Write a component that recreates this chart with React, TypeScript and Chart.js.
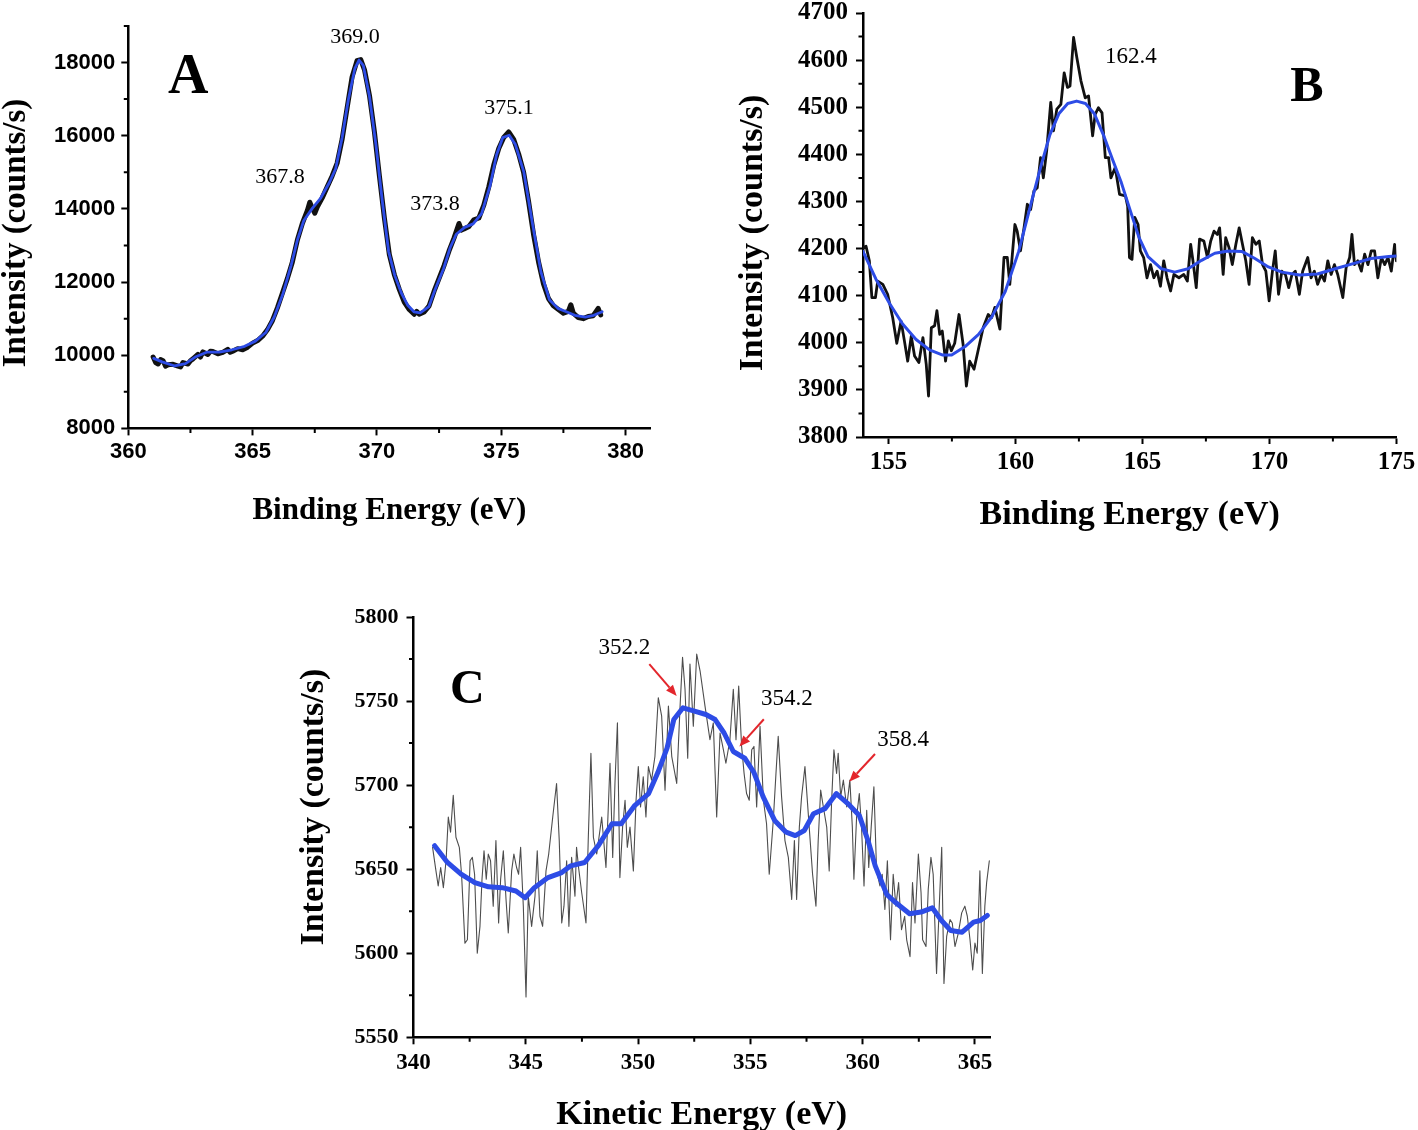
import React, { useEffect, useRef } from 'react';
import { Chart, registerables } from 'chart.js';
Chart.register(...registerables);

// ---------------- Panel A (Binding energy, 360-381 eV) ----------------
const A_X_TICKS = [360, 365, 370, 375, 380];
const A_X_MINOR = [362.5, 367.5, 372.5, 377.5];
const A_Y_TICKS = [8000, 10000, 12000, 14000, 16000, 18000];
const A_Y_MINOR = [9000, 11000, 13000, 15000, 17000, 19000];
const A_RAW: [number, number][] = [
  [361.0, 9950], [361.1, 9800], [361.2, 9760], [361.3, 9880], [361.4, 9850], [361.5, 9700], [361.6, 9740],
  [361.8, 9750], [362.0, 9700], [362.1, 9680], [362.2, 9800], [362.4, 9760], [362.5, 9850], [362.6, 9900],
  [362.8, 10020], [362.9, 9950], [363.0, 10090], [363.2, 10020], [363.3, 10110], [363.4, 10100], [363.6, 10040],
  [363.8, 10080], [364.0, 10160], [364.1, 10080], [364.2, 10110], [364.4, 10180], [364.6, 10150], [364.8, 10220],
  [365.0, 10330], [365.2, 10400], [365.4, 10520], [365.6, 10700], [365.8, 10950], [366.0, 11300], [366.2, 11700],
  [366.4, 12100], [366.6, 12550], [366.8, 13150], [367.0, 13600], [367.2, 13950], [367.3, 14180], [367.4, 14020],
  [367.5, 13880], [367.6, 14050], [367.8, 14300], [368.0, 14600], [368.2, 14900], [368.4, 15250], [368.6, 15900],
  [368.8, 16750], [369.0, 17600], [369.2, 18050], [369.35, 18080], [369.5, 17800], [369.7, 17100], [369.9, 16100],
  [370.1, 14900], [370.3, 13750], [370.5, 12750], [370.7, 12200], [370.9, 11800], [371.1, 11450], [371.3, 11250],
  [371.5, 11120], [371.6, 11200], [371.7, 11120], [371.9, 11180], [372.1, 11350], [372.3, 11750], [372.5, 12100],
  [372.7, 12450], [372.9, 12850], [373.1, 13200], [373.3, 13600], [373.4, 13420], [373.5, 13450], [373.7, 13520],
  [373.9, 13700], [374.1, 13750], [374.3, 14100], [374.5, 14600], [374.7, 15200], [374.9, 15650], [375.1, 15950],
  [375.3, 16100], [375.5, 15900], [375.7, 15500], [375.9, 15000], [376.1, 14200], [376.3, 13300], [376.5, 12550],
  [376.7, 11950], [376.9, 11550], [377.1, 11350], [377.3, 11250], [377.5, 11150], [377.7, 11200], [377.8, 11380],
  [377.9, 11150], [378.1, 11030], [378.3, 11000], [378.5, 11060], [378.7, 11080], [378.9, 11280], [379.0, 11100],
];
const A_FIT: [number, number][] = [
  [361.02, 9913], [361.36, 9819], [361.87, 9706], [362.3, 9772], [362.72, 9960], [363.15, 10083], [363.66, 10083],
  [364.17, 10149], [364.68, 10243], [365.11, 10385], [365.53, 10620], [365.87, 11044], [366.21, 11657],
  [366.55, 12458], [366.81, 13165], [367.06, 13683], [367.4, 14013], [367.74, 14296], [368.09, 14720],
  [368.34, 15097], [368.6, 15945], [368.85, 16982], [369.11, 17830], [369.28, 18066], [369.45, 17924],
  [369.7, 17076], [369.96, 15757], [370.21, 14249], [370.47, 12835], [370.72, 12175], [370.98, 11704],
  [371.23, 11374], [371.49, 11186], [371.74, 11157], [372.09, 11327], [372.34, 11798], [372.68, 12364],
  [372.94, 12929], [373.19, 13306], [373.53, 13495], [373.87, 13589], [374.21, 13872], [374.55, 14626],
  [374.81, 15474], [375.06, 15945], [375.32, 16011], [375.57, 15757], [375.91, 15003], [376.26, 13589],
  [376.6, 12270], [376.94, 11515], [377.28, 11280], [377.62, 11186], [377.96, 11091], [378.38, 11044],
  [378.72, 11091], [379.06, 11186],
];
const A_LABELS: [string, number, number][] = [
  ['369.0', 369.12, 18533], ['375.1', 375.31, 16593], ['367.8', 366.1, 14707], ['373.8', 372.34, 13969],
];
const A_LETTER: [string, number, number] = ['A', 362.41, 17166];

// ---------------- Panel B (Binding energy, 154-175 eV) ----------------
const B_X_TICKS = [155, 160, 165, 170, 175];
const B_X_MINOR = [157.5, 162.5, 167.5, 172.5];
const B_Y_TICKS = [3800, 3900, 4000, 4100, 4200, 4300, 4400, 4500, 4600, 4700];
const B_Y_MINOR = [3850, 3950, 4050, 4150, 4250, 4350, 4450, 4550, 4650];
const B_RAW: [number, number][] = [
  [153.99, 4202], [154.12, 4205], [154.25, 4174], [154.35, 4096], [154.49, 4096], [154.58, 4131], [154.78, 4124],
  [154.97, 4103], [155.17, 4053], [155.33, 3999], [155.5, 4046], [155.63, 4004], [155.76, 3961], [155.9, 4014],
  [156.03, 3972], [156.2, 3958], [156.36, 4011], [156.49, 3954], [156.58, 3887], [156.69, 4032], [156.82, 4036],
  [156.91, 4068], [157.02, 4018], [157.12, 4025], [157.25, 3961], [157.36, 4004], [157.48, 3983], [157.61, 3999],
  [157.78, 4060], [157.94, 3997], [158.07, 3908], [158.2, 3961], [158.37, 3944], [158.53, 3983], [158.73, 4032],
  [158.93, 4060], [159.06, 4053], [159.19, 4075], [159.39, 4029], [159.55, 4181], [159.68, 4181], [159.78, 4124],
  [159.98, 4251], [160.07, 4237], [160.2, 4195], [160.34, 4244], [160.47, 4294], [160.6, 4283], [160.73, 4322],
  [160.86, 4329], [160.99, 4393], [161.1, 4350], [161.23, 4407], [161.39, 4510], [161.5, 4450], [161.63, 4496],
  [161.79, 4506], [161.92, 4573], [162.05, 4542], [162.15, 4545], [162.29, 4648], [162.42, 4605], [162.58, 4556],
  [162.75, 4520], [162.88, 4524], [163.04, 4439], [163.14, 4485], [163.27, 4499], [163.41, 4488], [163.54, 4393],
  [163.67, 4393], [163.76, 4350], [163.93, 4372], [164.1, 4315], [164.33, 4312], [164.42, 4290], [164.49, 4181],
  [164.59, 4177], [164.7, 4266], [164.83, 4251], [164.92, 4195], [165.05, 4181], [165.18, 4138], [165.32, 4166],
  [165.45, 4138], [165.58, 4152], [165.71, 4120], [165.84, 4174], [165.97, 4138], [166.11, 4110], [166.24, 4145],
  [166.44, 4138], [166.63, 4145], [166.77, 4131], [166.9, 4209], [166.99, 4174], [167.12, 4117], [167.25, 4220],
  [167.42, 4216], [167.56, 4181], [167.69, 4216], [167.82, 4237], [167.95, 4230], [168.04, 4244], [168.18, 4145],
  [168.28, 4223], [168.41, 4202], [168.54, 4166], [168.68, 4209], [168.81, 4244], [168.94, 4209], [169.07, 4174],
  [169.2, 4124], [169.33, 4223], [169.47, 4209], [169.6, 4216], [169.73, 4166], [169.86, 4152], [169.99, 4089],
  [170.12, 4152], [170.23, 4195], [170.36, 4103], [170.49, 4152], [170.63, 4145], [170.76, 4117], [170.89, 4145],
  [171.02, 4152], [171.18, 4103], [171.31, 4152], [171.51, 4181], [171.64, 4138], [171.77, 4152], [171.9, 4124],
  [172.04, 4145], [172.17, 4131], [172.3, 4174], [172.43, 4145], [172.56, 4166], [172.69, 4145], [172.89, 4096],
  [173.02, 4159], [173.16, 4181], [173.25, 4230], [173.35, 4166], [173.48, 4174], [173.62, 4152], [173.75, 4188],
  [173.88, 4166], [174.01, 4195], [174.14, 4195], [174.27, 4138], [174.41, 4181], [174.54, 4166], [174.67, 4181],
  [174.8, 4152], [174.93, 4209], [175.0, 4174],
];
const B_FIT: [number, number][] = [
  [154.0, 4194], [154.51, 4135], [155.04, 4084], [155.56, 4040], [156.09, 4007], [156.62, 3985], [157.14, 3974],
  [157.49, 3974], [158.02, 3992], [158.55, 4018], [159.07, 4055], [159.6, 4109], [160.13, 4194], [160.65, 4303],
  [161.01, 4376], [161.36, 4442], [161.71, 4486], [162.06, 4508], [162.41, 4513], [162.76, 4508], [163.11, 4486],
  [163.46, 4442], [163.81, 4391], [164.17, 4340], [164.52, 4281], [164.87, 4223], [165.22, 4183], [165.75, 4157],
  [166.27, 4150], [166.8, 4157], [167.33, 4175], [167.85, 4190], [168.38, 4195], [168.91, 4194], [169.43, 4179],
  [169.96, 4161], [170.49, 4150], [171.19, 4144], [171.89, 4146], [172.59, 4157], [173.3, 4168], [174.0, 4179],
  [174.7, 4183], [175.0, 4184],
];
const B_LABELS: [string, number, number][] = [['162.4', 164.55, 4594]];
const B_LETTER: [string, number, number] = ['B', 171.48, 4513];

// ---------------- Panel C (Kinetic energy, 340-365.7 eV) ----------------
const C_X_TICKS = [340, 345, 350, 355, 360, 365];
const C_X_MINOR = [342.5, 347.5, 352.5, 357.5, 362.5];
const C_Y_TICKS = [5550, 5600, 5650, 5700, 5750, 5800];
const C_Y_MINOR = [5575, 5625, 5675, 5725, 5775];
const C_RAW: [number, number][] = [
  [340.85, 5663], [341.0, 5649], [341.1, 5640], [341.21, 5651], [341.33, 5639], [341.45, 5655], [341.55, 5681],
  [341.65, 5672], [341.77, 5694], [341.89, 5669], [342.04, 5663], [342.14, 5647], [342.29, 5606], [342.4, 5608],
  [342.52, 5655], [342.62, 5657], [342.72, 5647], [342.84, 5600], [342.96, 5616], [343.05, 5644], [343.14, 5661],
  [343.24, 5644], [343.33, 5659], [343.43, 5655], [343.55, 5628], [343.67, 5667], [343.79, 5618], [343.88, 5644],
  [344.0, 5661], [344.12, 5632], [344.22, 5612], [344.37, 5649], [344.47, 5659], [344.59, 5651], [344.68, 5647],
  [344.77, 5663], [344.89, 5628], [345.01, 5574], [345.11, 5634], [345.26, 5616], [345.41, 5634], [345.51, 5661],
  [345.63, 5622], [345.75, 5616], [345.9, 5649], [346.02, 5659], [346.2, 5681], [346.37, 5701], [346.49, 5667],
  [346.6, 5618], [346.7, 5628], [346.82, 5655], [346.92, 5616], [347.04, 5657], [347.19, 5634], [347.26, 5663],
  [347.35, 5651], [347.49, 5636], [347.68, 5618], [347.78, 5667], [347.9, 5719], [348.01, 5669], [348.16, 5659],
  [348.38, 5681], [348.57, 5651], [348.75, 5713], [348.87, 5657], [348.97, 5701], [349.08, 5737], [349.19, 5645],
  [349.31, 5675], [349.42, 5691], [349.52, 5663], [349.64, 5675], [349.79, 5649], [349.91, 5691], [350.01, 5711],
  [350.11, 5687], [350.23, 5705], [350.35, 5681], [350.46, 5711], [350.6, 5703], [350.75, 5717], [350.9, 5752],
  [351.05, 5741], [351.2, 5697], [351.35, 5747], [351.5, 5717], [351.72, 5701], [351.87, 5747], [351.98, 5776],
  [352.09, 5757], [352.21, 5716], [352.31, 5772], [352.46, 5735], [352.61, 5778], [352.76, 5768], [352.98, 5747],
  [353.2, 5727], [353.35, 5737], [353.5, 5681], [353.65, 5731], [353.8, 5721], [353.91, 5713], [354.09, 5727],
  [354.24, 5757], [354.36, 5727], [354.48, 5759], [354.61, 5723], [354.72, 5707], [354.83, 5695], [354.95, 5691],
  [355.06, 5721], [355.16, 5723], [355.28, 5687], [355.43, 5735], [355.58, 5691], [355.72, 5677], [355.84, 5647],
  [356.02, 5679], [356.14, 5707], [356.24, 5729], [356.39, 5693], [356.54, 5667], [356.69, 5657], [356.84, 5632],
  [356.96, 5667], [357.06, 5632], [357.18, 5675], [357.28, 5693], [357.43, 5711], [357.62, 5675], [357.77, 5647],
  [357.92, 5628], [358.02, 5667], [358.13, 5697], [358.25, 5687], [358.4, 5675], [358.51, 5649], [358.62, 5691],
  [358.72, 5721], [358.84, 5707], [358.91, 5719], [359.02, 5693], [359.14, 5703], [359.29, 5687], [359.43, 5703],
  [359.54, 5675], [359.61, 5644], [359.73, 5681], [359.85, 5695], [359.95, 5675], [360.06, 5640], [360.18, 5685],
  [360.27, 5651], [360.38, 5675], [360.5, 5699], [360.62, 5649], [360.77, 5640], [360.87, 5647], [360.99, 5626],
  [361.1, 5655], [361.24, 5608], [361.36, 5647], [361.48, 5628], [361.6, 5642], [361.73, 5614], [361.87, 5622],
  [361.96, 5608], [362.11, 5598], [362.22, 5642], [362.33, 5618], [362.48, 5659], [362.6, 5636], [362.67, 5608],
  [362.82, 5604], [362.92, 5638], [363.04, 5657], [363.14, 5647], [363.29, 5588], [363.41, 5628], [363.52, 5663],
  [363.62, 5582], [363.74, 5610], [363.89, 5620], [363.99, 5618], [364.11, 5604], [364.26, 5612], [364.41, 5624],
  [364.55, 5628], [364.66, 5622], [364.78, 5608], [364.9, 5590], [365.0, 5606], [365.1, 5600], [365.22, 5649],
  [365.33, 5588], [365.44, 5628], [365.52, 5642], [365.64, 5655],
];
const C_FIT: [number, number][] = [
  [340.94, 5664], [341.51, 5654], [342.12, 5647], [342.73, 5642], [343.34, 5639.5], [343.95, 5639], [344.56, 5637],
  [344.97, 5633], [345.38, 5639], [345.99, 5645], [346.6, 5648], [347.0, 5652], [347.62, 5654], [348.23, 5664],
  [348.84, 5677], [349.25, 5677], [349.86, 5688], [350.47, 5695], [350.88, 5707.5], [351.29, 5722], [351.59, 5739],
  [352.0, 5746], [352.51, 5744], [353.02, 5742], [353.43, 5739], [353.83, 5731], [354.24, 5720], [354.75, 5716],
  [355.16, 5707.5], [355.57, 5693], [356.08, 5679], [356.59, 5672], [357.0, 5670], [357.4, 5673], [357.81, 5683],
  [358.32, 5686], [358.83, 5695], [359.34, 5689], [359.85, 5682], [360.25, 5666.5], [360.56, 5652], [361.07, 5635],
  [361.48, 5630], [362.09, 5623.5], [362.6, 5624.5], [363.1, 5627], [363.51, 5619.5], [363.92, 5613.5],
  [364.43, 5612.5], [364.94, 5618.5], [365.24, 5619.5], [365.55, 5622.5],
];
const C_LABELS: [string, number, number][] = [
  ['352.2', 349.39, 5778], ['354.2', 356.63, 5747.7], ['358.4', 361.8, 5723.3],
];
// arrows: [fromX, fromY, tipX, tipY] in data units
const C_ARROWS: [number, number, number, number][] = [
  [350.5, 5772, 351.72, 5753], [355.6, 5739.2, 354.51, 5722.9], [360.55, 5718.5, 359.4, 5702],
];
const C_LETTER: [string, number, number] = ['C', 342.4, 5748.8];

// ---------------------------------------------------------------------
const PAGE_W = 1418;
const PAGE_H = 1130;
const BLUE = '#2d4ce6';
const SERIF = "'Liberation Serif', 'Times New Roman', serif";
const SANS = "'Liberation Sans', Arial, sans-serif";

type Panel = {
  xMin: number; xMax: number; yMin: number; yMax: number;
  xTicks: number[]; xMinor: number[]; yTicks: number[]; yMinor: number[];
  area: { left: number; top: number; right: number; bottom: number };
  tickFont: string; xTickSize: number; yTickSize: number; xPad: number; yPad: number;
  series: { pts: [number, number][]; color: string; width: number }[];
  labels: [string, number, number][]; labelSize: number;
  letter: [string, number, number]; letterSize: number;
  arrows: [number, number, number, number][];
  xTitle: string; xTitleSize: number; xTitleDy: number;
  yTitle: string; yTitleSize: number; yTitleDx: number; yTitleDy: number;
};

const PANELS: Panel[] = [
  {
    xMin: 360, xMax: 381, yMin: 8000, yMax: 19000,
    xTicks: A_X_TICKS, xMinor: A_X_MINOR, yTicks: A_Y_TICKS, yMinor: A_Y_MINOR,
    area: { left: 128.3, top: 25.9, right: 650.4, bottom: 428.4 },
    tickFont: SANS, xTickSize: 22, yTickSize: 22, xPad: 3, yPad: 6,
    series: [
      { pts: A_FIT, color: BLUE, width: 2.8 },
      { pts: A_RAW, color: '#111111', width: 5 },
    ],
    labels: A_LABELS, labelSize: 22, letter: A_LETTER, letterSize: 56, arrows: [],
    xTitle: 'Binding Energy (eV)', xTitleSize: 31, xTitleDy: 90.6,
    yTitle: 'Intensity (counts/s)', yTitleSize: 33, yTitleDx: 103.3, yTitleDy: 5.8,
  },
  {
    xMin: 154, xMax: 175, yMin: 3800, yMax: 4700,
    xTicks: B_X_TICKS, xMinor: B_X_MINOR, yTicks: B_Y_TICKS, yMinor: B_Y_MINOR,
    area: { left: 863, top: 13, right: 1396.4, bottom: 437 },
    tickFont: SERIF, xTickSize: 25, yTickSize: 25, xPad: 4, yPad: 8,
    series: [
      { pts: B_FIT, color: BLUE, width: 3 },
      { pts: B_RAW, color: '#111111', width: 2.8 },
    ],
    labels: B_LABELS, labelSize: 23, letter: B_LETTER, letterSize: 50, arrows: [],
    xTitle: 'Binding Energy (eV)', xTitleSize: 34, xTitleDy: 87,
    yTitle: 'Intensity (counts/s)', yTitleSize: 34, yTitleDx: 101, yTitleDy: 8,
  },
  {
    xMin: 340, xMax: 365.67, yMin: 5550, yMax: 5800,
    xTicks: C_X_TICKS, xMinor: C_X_MINOR, yTicks: C_Y_TICKS, yMinor: C_Y_MINOR,
    area: { left: 413.5, top: 617, right: 990, bottom: 1037.3 },
    tickFont: SERIF, xTickSize: 23, yTickSize: 22, xPad: 5, yPad: 8,
    series: [
      { pts: C_FIT, color: BLUE, width: 5 },
      { pts: C_RAW, color: '#4d4d4d', width: 1.1 },
    ],
    labels: C_LABELS, labelSize: 23, letter: C_LETTER, letterSize: 48, arrows: C_ARROWS,
    xTitle: 'Kinetic Energy (eV)', xTitleSize: 34, xTitleDy: 86.7,
    yTitle: 'Intensity (counts/s)', yTitleSize: 34, yTitleDx: 91, yTitleDy: -20,
  },
];

const Y_AXIS_W = 80;
const X_AXIS_H = 50;

function decorPlugin(p: Panel) {
  return {
    id: 'decor',
    afterDraw(chart: any) {
      const ctx: CanvasRenderingContext2D = chart.ctx;
      const xs = chart.scales.x;
      const ys = chart.scales.y;
      const ca = chart.chartArea;
      ctx.save();
      // minor ticks
      ctx.strokeStyle = '#000';
      ctx.lineWidth = 2;
      ctx.beginPath();
      for (const v of p.xMinor) {
        const px = xs.getPixelForValue(v);
        ctx.moveTo(px, ca.bottom);
        ctx.lineTo(px, ca.bottom + 4.5);
      }
      for (const v of p.yMinor) {
        const py = ys.getPixelForValue(v);
        ctx.moveTo(ca.left, py);
        ctx.lineTo(ca.left - 4.5, py);
      }
      ctx.stroke();

      ctx.fillStyle = '#000';
      ctx.textAlign = 'center';
      ctx.textBaseline = 'alphabetic';
      // peak labels
      ctx.font = `${p.labelSize}px ${SERIF}`;
      for (const [t, x, y] of p.labels) {
        ctx.fillText(t, xs.getPixelForValue(x), ys.getPixelForValue(y));
      }
      // panel letter
      ctx.font = `bold ${p.letterSize}px ${SERIF}`;
      ctx.fillText(p.letter[0], xs.getPixelForValue(p.letter[1]), ys.getPixelForValue(p.letter[2]));

      // arrows
      ctx.strokeStyle = '#e3262c';
      ctx.fillStyle = '#e3262c';
      ctx.lineWidth = 2;
      for (const [x1, y1, x2, y2] of p.arrows) {
        const ax = xs.getPixelForValue(x1), ay = ys.getPixelForValue(y1);
        const bx = xs.getPixelForValue(x2), by = ys.getPixelForValue(y2);
        const ang = Math.atan2(by - ay, bx - ax);
        const hl = 11, hw = 4.5;
        const bxs = bx - Math.cos(ang) * hl, bys = by - Math.sin(ang) * hl;
        ctx.beginPath();
        ctx.moveTo(ax, ay);
        ctx.lineTo(bxs, bys);
        ctx.stroke();
        ctx.beginPath();
        ctx.moveTo(bx, by);
        ctx.lineTo(bxs + Math.sin(ang) * hw, bys - Math.cos(ang) * hw);
        ctx.lineTo(bxs - Math.sin(ang) * hw, bys + Math.cos(ang) * hw);
        ctx.closePath();
        ctx.fill();
      }

      // axis titles
      ctx.fillStyle = '#000';
      ctx.font = `bold ${p.xTitleSize}px ${SERIF}`;
      ctx.fillText(p.xTitle, (ca.left + ca.right) / 2, ca.bottom + p.xTitleDy);
      ctx.save();
      ctx.translate(ca.left - p.yTitleDx, (ca.top + ca.bottom) / 2 + p.yTitleDy);
      ctx.rotate(-Math.PI / 2);
      ctx.font = `bold ${p.yTitleSize}px ${SERIF}`;
      ctx.fillText(p.yTitle, 0, 0);
      ctx.restore();
      ctx.restore();
    },
  };
}

function makeChart(canvas: HTMLCanvasElement, p: Panel) {
  const xFont = { family: p.tickFont, size: p.xTickSize, weight: 'bold' as const };
  const yFont = { family: p.tickFont, size: p.yTickSize, weight: 'bold' as const };
  const grid = {
    display: true,
    drawOnChartArea: false,
    drawTicks: true,
    tickLength: 7,
    tickWidth: 2,
    tickColor: '#000',
    color: '#000',
  };
  const border = { display: true, color: '#000', width: 2.5 };
  return new Chart(canvas, {
    type: 'scatter',
    data: {
      datasets: p.series.map((s) => ({
        data: s.pts.map(([x, y]) => ({ x, y })),
        showLine: true,
        borderColor: s.color,
        backgroundColor: s.color,
        borderWidth: s.width,
        pointRadius: 0,
        pointHoverRadius: 0,
        tension: 0,
        fill: false,
        borderJoinStyle: 'round' as const,
        borderCapStyle: 'round' as const,
      })),
    },
    options: {
      responsive: false,
      animation: false,
      events: [],
      layout: {
        padding: {
          left: p.area.left - Y_AXIS_W,
          top: p.area.top,
          right: PAGE_W - p.area.right,
          bottom: PAGE_H - p.area.bottom - X_AXIS_H,
        },
      },
      plugins: { legend: { display: false }, tooltip: { enabled: false }, title: { display: false } },
      scales: {
        x: {
          type: 'linear',
          min: p.xMin,
          max: p.xMax,
          grid,
          border,
          afterBuildTicks: (s: any) => { s.ticks = p.xTicks.map((v) => ({ value: v })); },
          afterFit: (s: any) => { s.height = X_AXIS_H; s.paddingLeft = 0; s.paddingRight = 0; },
          ticks: {
            font: xFont, color: '#000', padding: p.xPad, autoSkip: false, maxRotation: 0, minRotation: 0,
            callback: (v: any) => String(v),
          },
        },
        y: {
          type: 'linear',
          min: p.yMin,
          max: p.yMax,
          grid,
          border,
          afterBuildTicks: (s: any) => { s.ticks = p.yTicks.map((v) => ({ value: v })); },
          afterFit: (s: any) => { s.width = Y_AXIS_W; s.paddingTop = 0; s.paddingBottom = 0; },
          ticks: {
            font: yFont, color: '#000', padding: p.yPad, autoSkip: false,
            callback: (v: any) => String(v),
          },
        },
      },
    } as any,
    plugins: [decorPlugin(p)],
  });
}

export default function App() {
  const refs = [useRef<HTMLCanvasElement>(null), useRef<HTMLCanvasElement>(null), useRef<HTMLCanvasElement>(null)];
  useEffect(() => {
    const charts = PANELS.map((p, i) => makeChart(refs[i].current as HTMLCanvasElement, p));
    return () => charts.forEach((c) => c.destroy());
  }, []);
  return (
    <div style={{ position: 'absolute', left: 0, top: 0, width: PAGE_W, height: PAGE_H, background: '#fff' }}>
      {refs.map((r, i) => (
        <canvas
          key={i}
          ref={r}
          width={PAGE_W}
          height={PAGE_H}
          style={{ position: 'absolute', left: 0, top: 0, width: PAGE_W, height: PAGE_H }}
        />
      ))}
    </div>
  );
}
